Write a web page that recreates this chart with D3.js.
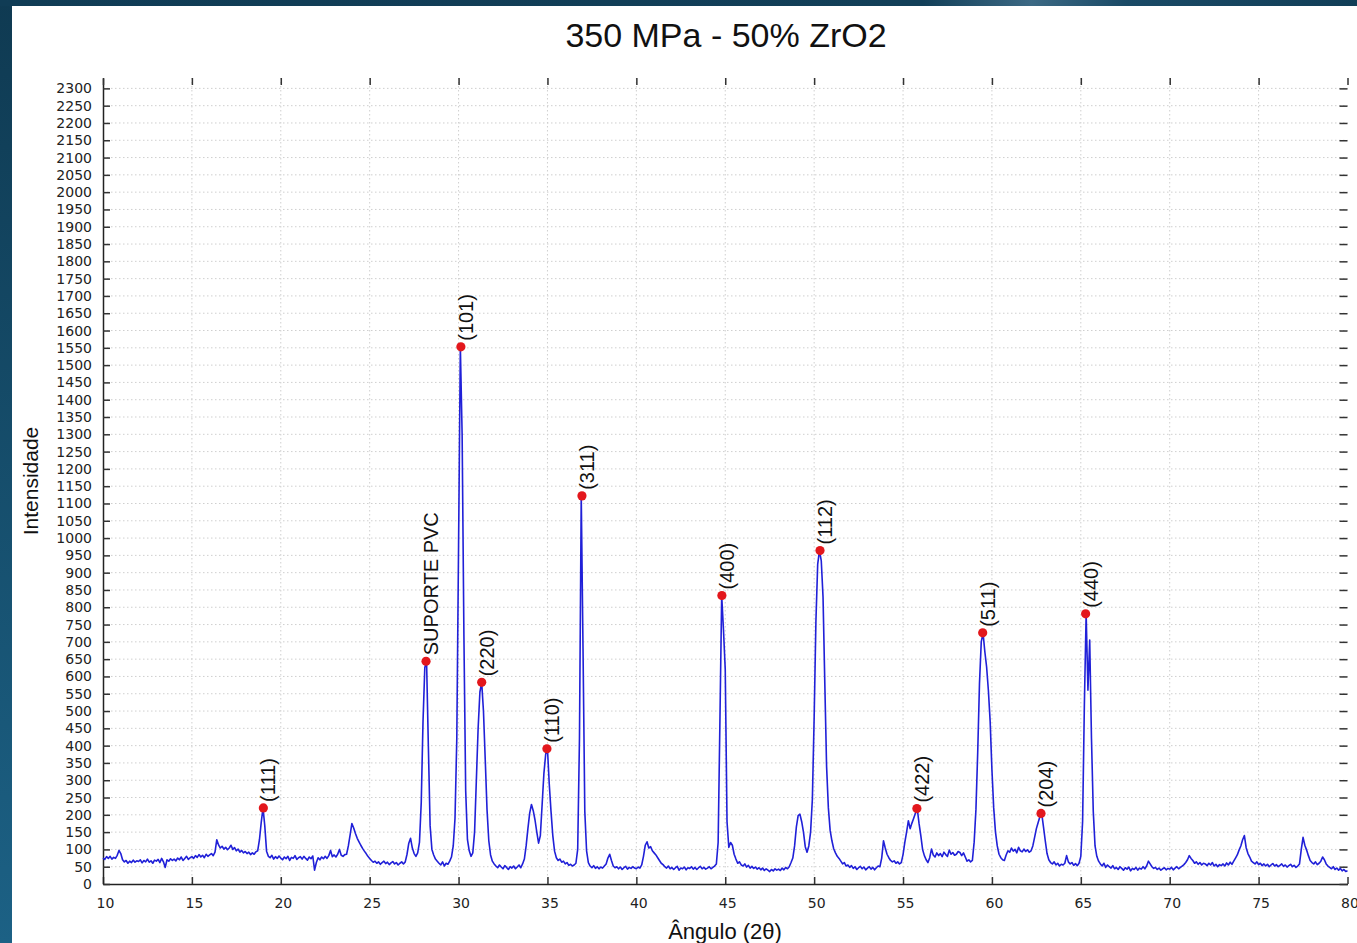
<!DOCTYPE html>
<html>
<head>
<meta charset="utf-8">
<script src="https://cdn.jsdelivr.net/npm/d3@7"></script>
<style>
  html, body { margin: 0; padding: 0; background: #123f58; }
  svg { display: block; }
</style>
</head>
<body>
<svg id="chart" width="1357" height="943"></svg>
<script>
// XRD pattern, 350 MPa compact with 50% ZrO2.
// Counts sampled every 0.1° of 2θ, from 10.0° to 80.0°.
const angleStart = 10;
const angleStep = 0.1;
const intensity = [
  75, 71, 79, 74, 80, 72, 77, 74, 83, 97,          // 10
  88, 70, 64, 68, 60, 66, 62, 69, 63, 67,          // 11
  65, 70, 61, 68, 64, 72, 63, 67, 60, 69,          // 12
  66, 71, 62, 74, 64, 48, 70, 66, 73, 68,          // 13
  72, 67, 75, 70, 78, 68, 74, 80, 71, 76,          // 14
  79, 74, 82, 77, 85, 78, 83, 76, 86, 80,          // 15
  84, 88, 82, 92, 128, 113, 104, 109, 101, 106,    // 16
  99, 104, 112, 100, 105, 96, 101, 92, 97, 90,     // 17
  94, 88, 92, 85, 90, 86, 93, 96, 128, 178,        // 18
  220, 168, 95, 80, 76, 83, 72, 79, 74, 81,        // 19
  75, 70, 78, 73, 80, 68, 77, 74, 82, 71,          // 20
  76, 79, 72, 80, 74, 69, 78, 73, 81, 40,          // 21
  62, 76, 70, 78, 73, 80, 74, 82, 97, 79,          // 22
  84, 78, 86, 100, 83, 80, 85, 86, 110, 142,       // 23
  175, 162, 146, 132, 122, 112, 103, 95, 88, 80,   // 24
  74, 68, 63, 66, 60, 64, 57, 62, 66, 59,          // 25
  63, 56, 61, 65, 58, 62, 55, 60, 64, 58,          // 26
  64, 86, 118, 132, 104, 88, 80, 90, 120, 235,     // 27
  470, 625, 644, 400, 168, 100, 84, 72, 66, 60,    // 28
  55, 64, 52, 60, 57, 66, 78, 110, 190, 420,       // 29
  980, 1553, 1300, 720, 270, 128, 96, 80, 90, 150, // 30
  300, 450, 555, 583, 500, 360, 215, 125, 84, 66,  // 31
  58, 52, 47, 55, 49, 44, 53, 48, 42, 50,          // 32
  46, 52, 44, 49, 55, 47, 58, 72, 110, 160,        // 33
  205, 230, 212, 185, 150, 118, 140, 230, 320, 375,// 34
  391, 290, 210, 140, 95, 76, 68, 72, 63, 66,      // 35
  58, 62, 54, 57, 52, 55, 60, 100, 420, 1122,      // 36
  680, 210, 96, 62, 52, 47, 53, 45, 50, 44,        // 37
  49, 46, 52, 58, 75, 86, 68, 52, 47, 50,          // 38
  44, 49, 42, 47, 51, 43, 48, 45, 50, 46,          // 39
  44, 49, 46, 55, 80, 112, 122, 104, 108, 96,      // 40
  90, 84, 76, 68, 60, 56, 50, 46, 52, 44,          // 41
  48, 42, 47, 51, 40, 46, 44, 49, 41, 47,          // 42
  45, 50, 43, 48, 42, 47, 51, 44, 48, 43,          // 43
  46, 50, 44, 48, 52, 58, 120, 470, 834, 735,      // 44
  620, 180, 106, 120, 112, 86, 72, 60, 64, 55,     // 45
  52, 58, 49, 54, 46, 51, 45, 49, 43, 47,          // 46
  41, 46, 39, 44, 40, 36, 42, 38, 44, 40,          // 47
  43, 39, 46, 41, 48, 44, 50, 62, 75, 110,         // 48
  165, 198, 202, 180, 150, 108, 92, 110, 150, 245, // 49
  480, 760, 925, 964, 935, 830, 580, 340, 220, 155,// 50
  125, 102, 90, 80, 74, 66, 58, 62, 52, 55,        // 51
  48, 53, 45, 50, 42, 47, 51, 44, 49, 41,          // 52
  46, 50, 43, 48, 41, 47, 52, 50, 75, 125,         // 53
  104, 86, 76, 68, 64, 67, 60, 64, 58, 62,         // 54
  85, 120, 150, 183, 160, 176, 190, 205, 218, 175, // 55
  140, 100, 82, 70, 62, 76, 101, 84, 78, 90,       // 56
  82, 88, 79, 92, 85, 80, 98, 86, 91, 83,          // 57
  86, 94, 91, 82, 90, 78, 66, 70, 64, 68,          // 58
  121, 215, 380, 580, 700, 726, 672, 628, 560, 470,// 59
  330, 220, 150, 110, 86, 76, 70, 68, 84, 96,      // 60
  92, 104, 95, 100, 90, 106, 96, 93, 101, 94,      // 61
  99, 92, 96, 110, 135, 160, 178, 195, 204, 165,   // 62
  125, 88, 70, 62, 58, 64, 55, 60, 52, 57,         // 63
  55, 60, 82, 64, 58, 62, 54, 59, 53, 60,          // 64
  80, 180, 520, 781, 560, 705, 420, 210, 110, 80,  // 65
  66, 58, 52, 60, 48, 55, 50, 46, 53, 44,          // 66
  48, 42, 50, 45, 40, 47, 43, 49, 38, 45,          // 67
  42, 48, 40, 46, 43, 50, 44, 52, 66, 58,          // 68
  50, 45, 48, 42, 46, 40, 44, 47, 41, 45,          // 69
  43, 48, 41, 46, 50, 44, 48, 52, 56, 62,          // 70
  70, 82, 74, 68, 60, 64, 57, 62, 55, 60,          // 71
  58, 53, 60, 55, 62, 52, 57, 50, 56, 53,          // 72
  58, 52, 61, 55, 63, 57, 66, 75, 84, 98,          // 73
  110, 128, 140, 105, 88, 78, 66, 62, 58, 64,      // 74
  56, 60, 53, 58, 52, 57, 50, 55, 59, 52,          // 75
  56, 50, 54, 58, 51, 55, 49, 53, 57, 50,          // 76
  54, 48, 52, 58, 100, 135, 112, 98, 82, 68,       // 77
  62, 58, 64, 56, 60, 66, 78, 70, 58, 52,          // 78
  48, 44, 50, 42, 46, 40, 45, 38, 42, 36,          // 79
  38                                               // 80
];

// Indexed reflections (marked peaks)
const peakAngles    = [19.02, 28.17, 30.13, 31.30, 34.97, 36.94, 44.81, 50.33, 55.78, 59.48, 62.76, 65.27];
const peakIntensity = [220, 644, 1553, 583, 391, 1122, 834, 964, 218, 726, 204, 781];
const peakLabels    = ["(111)", "SUPORTE PVC", "(101)", "(220)", "(110)", "(311)", "(400)", "(112)", "(422)", "(511)", "(204)", "(440)"];

// Axis ticks
const xTickValues = [10, 15, 20, 25, 30, 35, 40, 45, 50, 55, 60, 65, 70, 75, 80];
const yTickValues = [0, 50, 100, 150, 200, 250, 300, 350, 400, 450, 500, 550, 600, 650, 700, 750,
  800, 850, 900, 950, 1000, 1050, 1100, 1150, 1200, 1250, 1300, 1350, 1400, 1450, 1500, 1550,
  1600, 1650, 1700, 1750, 1800, 1850, 1900, 1950, 2000, 2050, 2100, 2150, 2200, 2250, 2300];

const titleText = "350 MPa - 50% ZrO2";
const xLabel = "Ângulo (2θ)";
const yLabel = "Intensidade";

const W = 1357, H = 943;
const svg = d3.select("#chart");
const defs = svg.append("defs");

// dark slide frame behind the white panel
const frameGrad = defs.append("linearGradient").attr("id", "frameGrad")
  .attr("x1", 0).attr("y1", 0).attr("x2", 0).attr("y2", 1);
frameGrad.append("stop").attr("offset", "0%").attr("stop-color", "#0f3a52");
frameGrad.append("stop").attr("offset", "100%").attr("stop-color", "#1c6185");
const topGrad = defs.append("linearGradient").attr("id", "topGrad")
  .attr("x1", 0).attr("y1", 0).attr("x2", 1).attr("y2", 0);
[["0%", "#103c55"], ["68%", "#123f58"], ["76%", "#3c6984"], ["83%", "#1a4a66"], ["100%", "#113e57"]]
  .forEach(([o, c]) => topGrad.append("stop").attr("offset", o).attr("stop-color", c));

svg.append("rect").attr("width", W).attr("height", H).attr("fill", "url(#frameGrad)");
svg.append("rect").attr("width", W).attr("height", 6).attr("fill", "url(#topGrad)");
svg.append("rect").attr("x", 12).attr("y", 6).attr("width", W - 12).attr("height", H - 6).attr("fill", "#ffffff");

// scales
const x = d3.scaleLinear().domain([10, 80]).range([103, 1347.5]);
const y = d3.scaleLinear().domain([0, 2330]).range([884, 78]);

// dotted grid
const grid = svg.append("g").attr("stroke", "#cfcfcf").attr("stroke-width", 1)
  .attr("stroke-dasharray", "1.5,2.5").attr("fill", "none");
grid.selectAll("line.h").data(yTickValues.filter(v => v > 0)).join("line")
  .attr("class", "h")
  .attr("x1", x(10)).attr("x2", x(80))
  .attr("y1", d => y(d)).attr("y2", d => y(d));
grid.selectAll("line.v").data(xTickValues.filter(v => v > 10 && v < 80)).join("line")
  .attr("class", "v")
  .attr("y1", y.range()[1]).attr("y2", y(0))
  .attr("x1", d => x(d)).attr("x2", d => x(d));

const tickFont = "'DejaVu Sans', Verdana, sans-serif";
function styleAxis(g) {
  g.attr("font-family", tickFont).attr("font-size", 14);
  g.selectAll(".tick line").attr("stroke", "#333").attr("stroke-width", 1.5);
  g.select(".domain").attr("stroke", "#222").attr("stroke-width", 1.5);
  g.selectAll(".tick text").attr("fill", "#222");
}

// bottom axis
svg.append("g").attr("transform", `translate(0,${y(0)})`)
  .call(d3.axisBottom(x).tickValues(xTickValues).tickSizeInner(-7).tickSizeOuter(0)
    .tickPadding(14).tickFormat(d3.format("d")))
  .call(styleAxis)
  .call(g => g.selectAll(".tick text").attr("dx", 2));

// left axis
svg.append("g").attr("transform", `translate(${x(10)},0)`)
  .call(d3.axisLeft(y).tickValues(yTickValues).tickSizeInner(-7).tickSizeOuter(0)
    .tickPadding(11).tickFormat(d3.format("d")))
  .call(styleAxis);

// top and right tick marks (no labels, no spine)
svg.append("g").attr("transform", `translate(0,${y.range()[1]})`)
  .call(d3.axisTop(x).tickValues(xTickValues).tickSizeInner(-7).tickSizeOuter(0).tickFormat(() => ""))
  .call(styleAxis)
  .call(g => g.select(".domain").remove());
svg.append("g").attr("transform", `translate(${x(80)},0)`)
  .call(d3.axisRight(y).tickValues(yTickValues).tickSizeInner(-8).tickSizeOuter(0).tickFormat(() => ""))
  .call(styleAxis)
  .call(g => g.select(".domain").remove());

// diffraction trace
const pattern = intensity.map((v, i) => ({ angle: angleStart + i * angleStep, value: v }));
const line = d3.line().x(d => x(d.angle)).y(d => y(d.value));
svg.append("path").datum(pattern)
  .attr("d", line)
  .attr("fill", "none")
  .attr("stroke", "#2020d8")
  .attr("stroke-width", 1.6)
  .attr("stroke-linejoin", "round");

// marked reflections
const peaks = peakAngles.map((a, i) => ({ angle: a, value: peakIntensity[i], label: peakLabels[i] }));
svg.append("g").selectAll("circle").data(peaks).join("circle")
  .attr("cx", d => x(d.angle)).attr("cy", d => y(d.value))
  .attr("r", 4.6).attr("fill", "#e3171c");
svg.append("g").selectAll("text").data(peaks).join("text")
  .attr("transform", d => `translate(${x(d.angle) + 12},${y(d.value) - 6}) rotate(-90)`)
  .attr("font-family", "'Liberation Sans', Arial, sans-serif")
  .attr("font-size", 20)
  .attr("fill", "#111")
  .text(d => d.label);

// titles
svg.append("text")
  .attr("x", 726).attr("y", 47)
  .attr("text-anchor", "middle")
  .attr("font-family", "'Liberation Sans', Arial, sans-serif")
  .attr("font-size", 34)
  .attr("fill", "#111")
  .text(titleText);
svg.append("text")
  .attr("x", 725).attr("y", 939)
  .attr("text-anchor", "middle")
  .attr("font-family", "'Liberation Sans', Arial, sans-serif")
  .attr("font-size", 22)
  .attr("fill", "#111")
  .text(xLabel);
svg.append("text")
  .attr("transform", "translate(38,481) rotate(-90)")
  .attr("text-anchor", "middle")
  .attr("font-family", "'Liberation Sans', Arial, sans-serif")
  .attr("font-size", 21)
  .attr("fill", "#111")
  .text(yLabel);
</script>
</body>
</html>
